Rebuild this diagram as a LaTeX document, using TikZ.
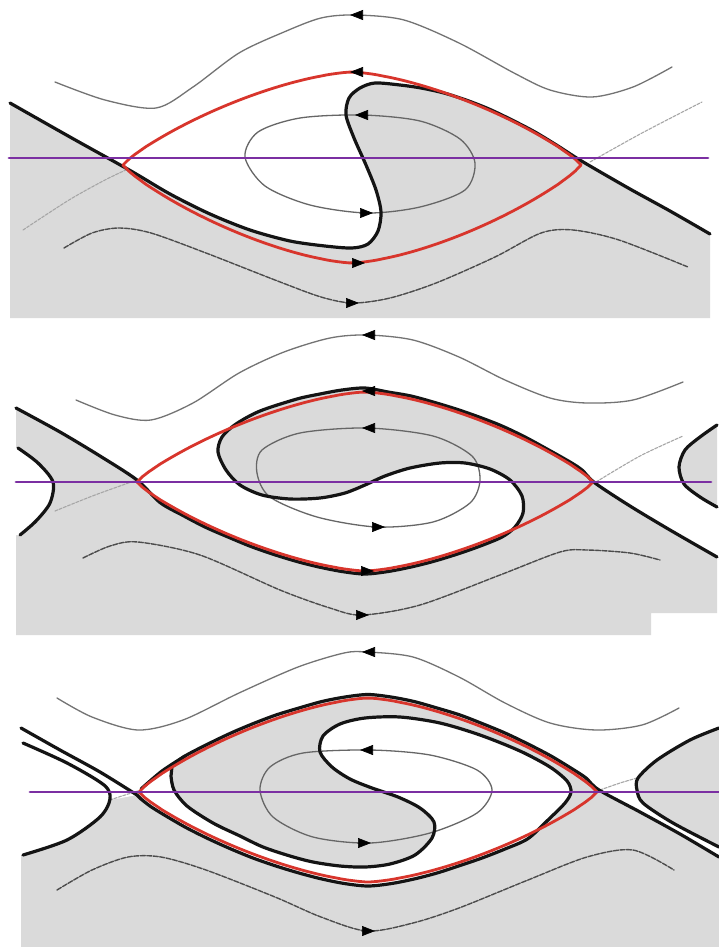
\documentclass[tikz,border=0pt]{standalone}
\usetikzlibrary{calc, arrows.meta}
\definecolor{fluidgray}{HTML}{DADADA}
\definecolor{sepred}{HTML}{D8352C}
\definecolor{cutviolet}{HTML}{7B2FA2}
\definecolor{inkdark}{HTML}{141414}

% cat's eye separatrix: centre x, centre y, half width, height above, depth below
\newcommand{\eyelens}[5]{%
  \draw[seprx] plot[domain=-1:1, samples=80] ({#1+#3*\x}, {#2-#4*pow(max(1-pow(abs(\x),1.5),0.00001),0.85)})
    -- plot[domain=1:-1, samples=80] ({#1+#3*\x}, {#2+#5*pow(max(1-pow(abs(\x),1.5),0.00001),0.85)}) -- cycle;}

% interfaces (used for the fills and the thick lines)
\newcommand{\ifaceone}{plot[smooth, tension=0.5] coordinates {(10,103) (70,137) (131,171) (170,194) (210,214) (250,230) (290,241) (325,246) (352,248) (368,244) (378,231) (381,212) (376,190) (366,165) (354,138) (346,115) (349,98) (360,88) (375,83) (400,85) (421,88) (444,93) (466,100) (489,109) (512,120) (535,132) (558,146) (575,157) (590,166) (630,189) (670,211) (710,234)}}
\newcommand{\ifacetwo}{plot[smooth, tension=0.5] coordinates {(16,408) (60,432) (100,456) (137,480) (160,502.5) (183,515.5) (205,527) (228,537) (251,546.5) (274,554.5) (297,561.5) (319,567) (342,571.5) (365,574) (388,571.5) (411,567) (433,561.5) (456,554.5) (479,546.5) (502,537) (515,527) (523,513) (522,496) (510,480) (490,469) (465,463) (440,463) (410,468) (385,476) (365,485) (345,493) (320,498) (290,499) (262,495) (240,485) (226,470) (218,452) (222,437) (236,424) (260,411) (297,399) (320,394) (342,390) (365,388) (388,392) (411,396) (433,402) (456,409) (479,417) (502,426) (525,437) (547,449) (570,462) (582,470) (595,483) (630,506) (670,530) (717,557)}}
\newcommand{\ifacethree}{plot[smooth, tension=0.5] coordinates {(719,857) (680,834) (640,812) (599,790) (586,778) (574,770) (551,756) (528,744) (505,733) (482,723.5) (460,715) (437,708) (414,701.5) (391,697) (368,694.5) (345,697) (322,701.5) (299,708) (276,715) (253.5,723.5) (231,733) (208,744) (185,756) (172,766)}
  -- plot[smooth, tension=0.5] coordinates {(171,776) (174,790) (187,806) (213,823) (240,836) (263,847) (290,856) (313,862) (340,866) (365,867) (390,864) (415,855) (432,838) (434,822) (420,808) (398,797) (372,788) (350,779) (332,767) (320,752) (323,736) (340,724) (365,718) (400,717) (440,723) (480,735) (520,751) (550,767) (567,781) (571,792) (565,803) (548,820) (528,838.6) (505,849) (482,858) (460,865.5) (437,873) (414,879) (391,883.6) (368,886) (345,883.6) (322,879) (299,873) (276,866) (253,858) (231,849) (208,838.6) (185,827) (162,813.6) (150,806) (141,799)}
  -- plot[smooth, tension=0.5] coordinates {(137,795) (100,772) (60,750) (21,728)}}

\begin{document}
\begin{tikzpicture}[
    x=1pt, y=-1pt,
    line cap=round, line join=round,
    iface/.style={line width=3.2pt, inkdark},
    seprx/.style={line width=2.8pt, sepred},
    cutline/.style={line width=2.8pt, cutviolet},
    farflow/.style={line width=1.3pt, black!55},
    nearflow/.style={line width=1.4pt, black!70, dash pattern=on 5pt off 1.5pt},
    ghost/.style={line width=1.1pt, black!35, dash pattern=on 3pt off 1.5pt},
    loopflow/.style={line width=1.3pt, black!60},
    tipl/.style={-{Triangle[length=13pt,width=10pt]}, line width=0.6pt, black}
]

    \useasboundingbox (0,0) rectangle (719,951);
    \fill[white] (0,0) rectangle (719,951);

    % ================= Panel 1 =================
    % lower fluid
    \fill[fluidgray] \ifaceone -- (710,318) -- (10,318) -- cycle;

    % streamlines
    \draw[farflow] plot[smooth] coordinates {(55,82) (105,100) (156,108) (193,87) (239,53) (284,32) (321,18) (355,15) (404,20) (459,43) (514,73) (550,90) (592,97) (633,87) (672,67)};
    \draw[ghost] plot[smooth] coordinates {(23,230) (69,200) (105,180) (128,169)};
    \draw[ghost] plot[smooth] coordinates {(590,162) (642,133) (702,102)};
    \draw[nearflow] plot[smooth] coordinates {(64,248) (92,233) (119,228) (151,233) (206,253) (275,280) (321,297) (353,303) (390,298) (436,283) (495,257) (541,233) (573,230) (619,240) (688,267)};
    \draw[loopflow] plot[smooth cycle] coordinates {(245,157) (258,132) (300,118) (362,115) (420,121) (460,139) (475,163) (465,190) (420,207) (367,213) (310,205) (265,186)};

    % interface and separatrix
    \draw[iface] \ifaceone;
    \eyelens{352}{165}{229}{93}{98}
    \draw[cutline] (9,158) -- (708,158);

    % flow direction
    \draw[tipl] (363,15) -- (350,15);
    \draw[tipl] (363,72) -- (350,72);
    \draw[tipl] (368,115) -- (355,115);
    \draw[tipl] (360,213) -- (373,213);
    \draw[tipl] (352,263) -- (365,263);
    \draw[tipl] (346,303) -- (359,303);

    % ================= Panel 2 =================
    % lower fluid
    \fill[fluidgray] \ifacetwo -- (717,613) -- (651,613) -- (651,635) -- (16,635) -- cycle;
    % neighbouring eyes
    \fill[white] plot[smooth] coordinates {(18,448) (38,463) (53,482) (50,503) (36,521) (20,535)} -- (16,535) -- (16,448) -- cycle;
    \fill[fluidgray] plot[smooth] coordinates {(717,425) (700,437) (685,450) (679,467) (684,484) (700,497) (717,507)} -- cycle;

    % streamlines
    \draw[farflow] plot[smooth] coordinates {(76,400) (115,415) (151,420) (193,403) (239,373) (284,352) (330,338) (367,335) (413,340) (459,357) (505,380) (550,398) (587,403) (633,400) (683,382)};
    \draw[ghost] plot[smooth] coordinates {(55,511) (95,495) (137,480)};
    \draw[ghost] plot[smooth] coordinates {(596,482) (640,456) (683,436)};
    \draw[nearflow] plot[smooth] coordinates {(83,558) (110,546) (138,542) (200,555) (280,590) (330,608) (362,615) (420,605) (500,575) (560,552) (587,550) (630,553) (660,560)};
    \draw[loopflow] plot[smooth cycle] coordinates {(257,473) (262,450) (300,433) (367,428) (433,436) (472,456) (480,480) (470,503) (433,522) (377,527) (317,517) (270,497)};

    % interface and separatrix
    \draw[iface] \ifacetwo;
    \draw[iface] plot[smooth] coordinates {(18,448) (38,463) (53,482) (50,503) (36,521) (20,535)};
    \draw[iface] plot[smooth] coordinates {(717,425) (700,437) (685,450) (679,467) (684,484) (700,497) (717,507)};
    \eyelens{365}{482}{228}{90}{89}
    \draw[cutline] (16,482) -- (711,482);

    % flow direction
    \draw[tipl] (375,335) -- (362,335);
    \draw[tipl] (375,391) -- (362,391);
    \draw[tipl] (375,428) -- (362,428);
    \draw[tipl] (372,527) -- (385,527);
    \draw[tipl] (361,571) -- (374,571);
    \draw[tipl] (356,615) -- (369,615);

    % ================= Panel 3 =================
    % lower fluid, upper fluid and the rolled-up tongue
    \fill[fluidgray] (21,690) rectangle (719,947);
    \fill[white] \ifacethree -- (21,690) -- (719,690) -- cycle;
    % neighbouring eyes
    \fill[white] plot[smooth] coordinates {(21,728) (60,750) (100,772) (137,795)} -- (110,800) -- plot[smooth] coordinates {(110,800) (100,817) (67,840) (23,855)} -- (21,855) -- cycle;
    \fill[fluidgray] plot[smooth] coordinates {(719,728) (690,740) (657,760) (638,778) (637,790) (643,803) (673,823) (719,847)} -- cycle;

    % streamlines
    \draw[farflow] plot[smooth] coordinates {(57,698) (92,717) (138,730) (183,720) (239,693) (298,667) (344,653) (367,652) (413,657) (459,677) (505,703) (550,723) (596,730) (642,725) (679,708)};
    \draw[ghost] plot[smooth] coordinates {(110,800) (125,795) (138,791)};
    \draw[ghost] plot[smooth] coordinates {(600,790) (620,783) (637,778)};
    \draw[nearflow] plot[smooth] coordinates {(57,890) (92,870) (128,857) (161,857) (206,870) (275,897) (321,917) (367,931) (413,923) (459,908) (528,880) (587,857) (633,850) (674,870)};
    \draw[loopflow] plot[smooth cycle] coordinates {(260,790) (270,767) (303,753) (370,750) (430,755) (477,770) (492,790) (477,813) (430,833) (370,843) (313,837) (273,817)};

    % interface and separatrix
    \draw[iface] \ifacethree;
    \draw[iface] plot[smooth] coordinates {(185,756) (162,771) (141,789)};
    \draw[iface] plot[smooth] coordinates {(23,743) (67,763) (104,785) (110,799) (100,817) (67,840) (23,855)};
    \draw[iface] plot[smooth] coordinates {(719,728) (690,740) (657,760) (638,778) (637,790) (643,803) (673,823) (719,847)};
    \eyelens{368}{792}{229}{94}{90}
    \draw[cutline] (30,792) -- (719,792);

    % flow direction
    \draw[tipl] (375,652) -- (362,652);
    \draw[tipl] (373,750) -- (360,750);
    \draw[tipl] (358,843) -- (371,843);
    \draw[tipl] (362,931) -- (375,931);

\end{tikzpicture}
\end{document}
